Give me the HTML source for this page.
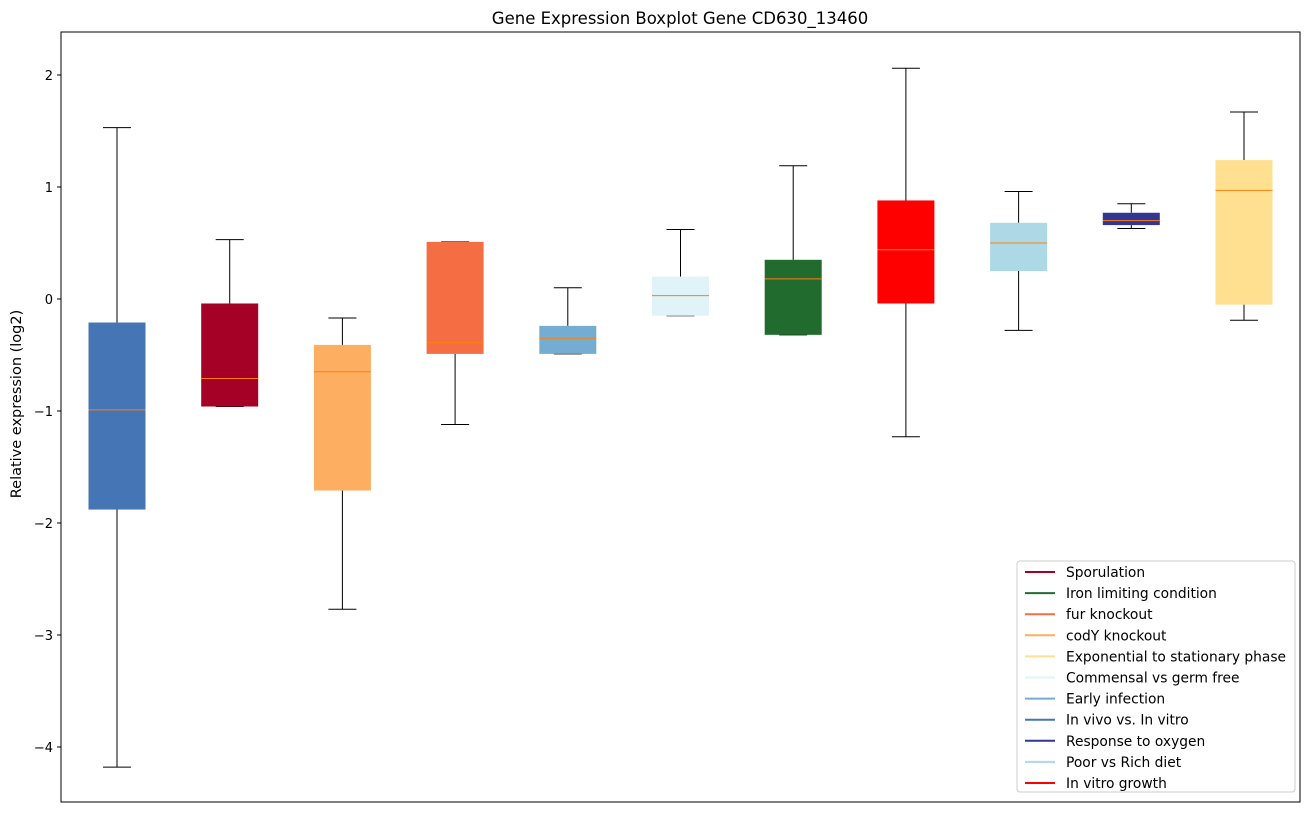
<!DOCTYPE html>
<html><head><meta charset="utf-8"><style>
body{margin:0;background:#fff;font-family:"Liberation Sans","DejaVu Sans",sans-serif;}
svg text{font-family:"DejaVu Sans","Liberation Sans",sans-serif;}
</style></head><body>
<svg id="chart" width="1309" height="812" xmlns="http://www.w3.org/2000/svg">
<rect width="1309" height="812" fill="#fff"/>
<text x="680" y="24" font-size="16.5" text-anchor="middle">Gene Expression Boxplot Gene CD630_13460</text>
<text transform="translate(21,404) rotate(-90)" font-size="14.5" text-anchor="middle">Relative expression (log2)</text>
<g id="boxes"></g>
<g id="yaxis"></g>
<rect x="61" y="32" width="1239" height="770" fill="none" stroke="#000" stroke-width="1"/>
<g id="legend"></g>
</svg>
<script>
const categories=["In vivo vs. In vitro","Sporulation","codY knockout","fur knockout","Early infection","Commensal vs germ free","Iron limiting condition","In vitro growth","Poor vs Rich diet","Response to oxygen","Exponential to stationary phase"];
const whiskerLow=[-4.18,-0.96,-2.77,-1.12,-0.49,-0.15,-0.32,-1.23,-0.28,0.63,-0.19];
const q1Values=[-1.88,-0.96,-1.71,-0.49,-0.49,-0.15,-0.32,-0.04,0.25,0.66,-0.05];
const medianValues=[-0.99,-0.71,-0.65,-0.39,-0.35,0.03,0.18,0.44,0.50,0.70,0.97];
const q3Values=[-0.21,-0.04,-0.41,0.51,-0.24,0.20,0.35,0.88,0.68,0.77,1.24];
const whiskerHigh=[1.53,0.53,-0.17,0.51,0.10,0.62,1.19,2.06,0.96,0.85,1.67];
const yTicks=[2,1,0,-1,-2,-3,-4];
const yTickLabels=["2","1","0","\u22121","\u22122","\u22123","\u22124"];
const legendLabels=["Sporulation","Iron limiting condition","fur knockout","codY knockout","Exponential to stationary phase","Commensal vs germ free","Early infection","In vivo vs. In vitro","Response to oxygen","Poor vs Rich diet","In vitro growth"];
const colorMap={"In vivo vs. In vitro":"#4575b4","Sporulation":"#a50026","codY knockout":"#fdae61","fur knockout":"#f46d43","Early infection":"#74add1","Commensal vs germ free":"#e0f3f8","Iron limiting condition":"#226b2e","In vitro growth":"#ff0000","Poor vs Rich diet":"#add8e6","Response to oxygen":"#313695","Exponential to stationary phase":"#fee090"};
const NS="http://www.w3.org/2000/svg";
const y=v=>299-v*112;
const x=i=>117+i*112.7;
function mk(t,a,p){const e=document.createElementNS(NS,t);for(const k in a)e.setAttribute(k,a[k]);p.appendChild(e);return e;}
const yg=document.getElementById('yaxis');
yTicks.forEach((t,i)=>{
 const l=mk('line',{x1:57,x2:61,y1:y(t),y2:y(t),stroke:'#000'},yg);
 
 
 const tx=mk('text',{x:53,y:y(t)+5,'font-size':13,'text-anchor':'end'},yg);
 tx.textContent=yTickLabels[i];
 
 
});
const bg=document.getElementById('boxes');
categories.forEach((c,i)=>{
 const cx=x(i),w=57;
 const g=mk('g',{},bg);
 
 
 mk('line',{x1:cx,x2:cx,y1:y(whiskerHigh[i]),y2:y(q3Values[i]),stroke:'#000'},g);
 mk('line',{x1:cx,x2:cx,y1:y(q1Values[i]),y2:y(whiskerLow[i]),stroke:'#000'},g);
 mk('line',{x1:cx-14,x2:cx+14,y1:y(whiskerHigh[i]),y2:y(whiskerHigh[i]),stroke:'#000'},g);
 mk('line',{x1:cx-14,x2:cx+14,y1:y(whiskerLow[i]),y2:y(whiskerLow[i]),stroke:'#000'},g);
 mk('rect',{x:cx-w/2,y:y(q3Values[i]),width:w,height:Math.max(1,y(q1Values[i])-y(q3Values[i])),fill:colorMap[c]},g);
 mk('line',{x1:cx-w/2,x2:cx+w/2,y1:y(medianValues[i]),y2:y(medianValues[i]),stroke:'#ff7f0e'},g);
});
const lg=document.getElementById('legend');
const lr=mk('rect',{x:1017,y:561,width:278,height:231,rx:3,fill:'#fff',stroke:'#ccc'},lg);


legendLabels.forEach((c,i)=>{
 const yy=572+i*21.1;
 const g=mk('g',{},lg);
 
 
 mk('line',{x1:1025,x2:1055,y1:yy,y2:yy,stroke:colorMap[c],'stroke-width':2},g);
 const t=mk('text',{x:1066,y:yy+5,'font-size':13.8},g);
 t.textContent=c;
});
</script>
</body></html>
